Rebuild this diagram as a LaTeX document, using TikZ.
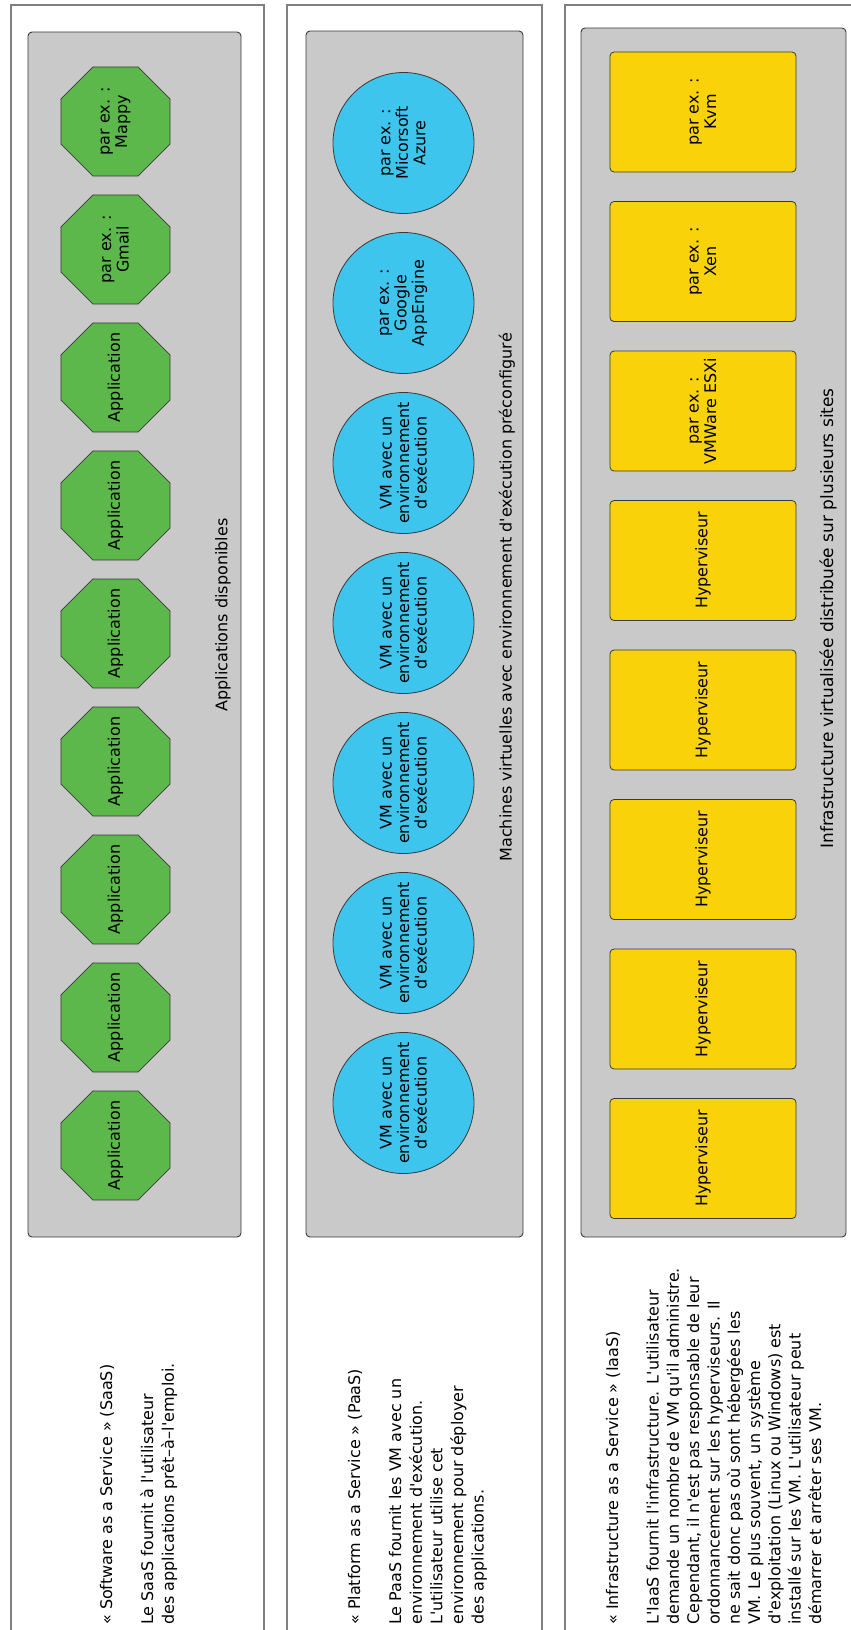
\documentclass[tikz,border=0pt]{standalone}
\usepackage{fontspec}
\setmainfont{DejaVu Sans}[Ligatures=TeXOff]
\usetikzlibrary{shapes.geometric}
\definecolor{appgreen}{HTML}{5CB84A}
\definecolor{vmcyan}{HTML}{3EC5EE}
\definecolor{hypyellow}{HTML}{FAD20A}
\definecolor{layergray}{HTML}{C9C9C9}
\definecolor{panelgray}{HTML}{808080}
\definecolor{edgegray}{HTML}{3A3A3A}
\begin{document}
\begin{tikzpicture}[x=1pt,y=-1pt,
  font=\fontsize{16pt}{17.5pt}\selectfont,
  panel/.style={draw=panelgray, line width=1.3pt, fill=white},
  layer/.style={draw=edgegray, line width=0.9pt, fill=layergray, rounded corners=4pt},
  intext/.style={rotate=90, align=center, inner sep=0pt},
  octo/.style={regular polygon, regular polygon sides=8, minimum size=118pt, inner sep=0pt,
    fill=appgreen, draw=edgegray, line width=0.8pt, label={[intext]center:{#1}}},
  vm/.style={circle, minimum size=141pt, inner sep=0pt, fill=vmcyan, draw=edgegray,
    line width=0.8pt, label={[intext]center:{#1}}},
  hyp/.style={rectangle, rounded corners=4pt, minimum width=186pt, minimum height=120pt,
    inner sep=0pt, fill=hypyellow, draw=edgegray, line width=0.8pt, label={[intext]center:{#1}}},
  lbl/.style={rotate=90, inner sep=0pt},
  desc/.style={rotate=90, anchor=base west, inner sep=0pt}
]
\useasboundingbox (0,0) rectangle (851,1630);
\fill[white] (0,0) rectangle (851,1630);

% outer panels
\draw[panel] (11,5) rectangle (264,1645);
\draw[panel] (287,5) rectangle (542,1645);
\draw[panel] (565,5) rectangle (870,1645);

% layers
\draw[layer] (28,32) rectangle (241,1237);
\draw[layer] (306,31) rectangle (523,1237);
\draw[layer] (581,28) rectangle (846,1237);

% SaaS
\node[octo={par ex. :\\Mappy}] (mappy) at (115.5,121.5) {};
\node[octo={par ex. :\\Gmail}] (gmail) at (115.5,249.5) {};
\foreach \k/\y in {1/377.5,2/505.5,3/633.5,4/761.5,5/889.5,6/1017.5,7/1145.5}
  \node[octo={Application}] (app\k) at (115.5,\y) {};
\node[lbl] (applbl) at (223,615) {Applications disponibles};

% PaaS
\node[vm={par ex. :\\Micorsoft\\Azure}] (azure) at (403.5,143) {};
\node[vm={par ex. :\\Google\\AppEngine}] (appengine) at (403.5,303) {};
\foreach \k/\y in {1/463,2/623,3/783,4/943,5/1103}
  \node[vm={VM avec un\\environnement\\d'exécution}] (vm\k) at (403.5,\y) {};
\node[lbl, anchor=east] (vmlbl) at (507,333) {Machines virtuelles avec environnement d'exécution préconfiguré};

% IaaS
\node[hyp={par ex. :\\Kvm}] (kvm) at (703,112) {};
\node[hyp={par ex. :\\Xen}] (xen) at (703,261.5) {};
\node[hyp={par ex. :\\VMWare ESXi}] (esxi) at (703,411) {};
\foreach \k/\y in {1/560.5,2/710,3/859.5,4/1009,5/1158.5}
  \node[hyp={Hyperviseur}] (hyp\k) at (703,\y) {};
\node[lbl, anchor=east, font=\fontsize{17pt}{19pt}\selectfont] (infralbl) at (828,388) {Infrastructure virtualisée distribuée sur plusieurs sites};

% descriptions
\node[desc] (saasdesc) at (112,1625) {\vtop{\baselineskip=20.6pt
  \hbox{« Software as a Service » (SaaS)}\hbox{}
  \hbox{Le SaaS fournit à l'utilisateur}
  \hbox{des applications prêt–à–l'emploi.}}};
\node[desc] (paasdesc) at (360,1625) {\vtop{\baselineskip=20.6pt
  \hbox{« Platform as a Service » (PaaS)}\hbox{}
  \hbox{Le PaaS fournit les VM avec un}
  \hbox{environnement d'exécution.}
  \hbox{L'utilisateur utilise cet}
  \hbox{environnement pour déployer}
  \hbox{des applications.}}};
\node[desc] (iaasdesc) at (618,1625) {\vtop{\baselineskip=20.3pt
  \hbox{« Infrastructure as a Service » (IaaS)}\hbox{}
  \hbox{L'IaaS fournit l'infrastructure. L'utilisateur}
  \hbox{demande un nombre de VM qu'il administre.}
  \hbox{Cependant, il n'est pas responsable de leur}
  \hbox{ordonnancement sur les hyperviseurs. Il}
  \hbox{ne sait donc pas où sont hébergées les}
  \hbox{VM. Le plus souvent, un système}
  \hbox{d'exploitation (Linux ou Windows) est}
  \hbox{installé sur les VM. L'utilisateur peut}
  \hbox{démarrer et arrêter ses VM.}}};
\end{tikzpicture}
\end{document}
